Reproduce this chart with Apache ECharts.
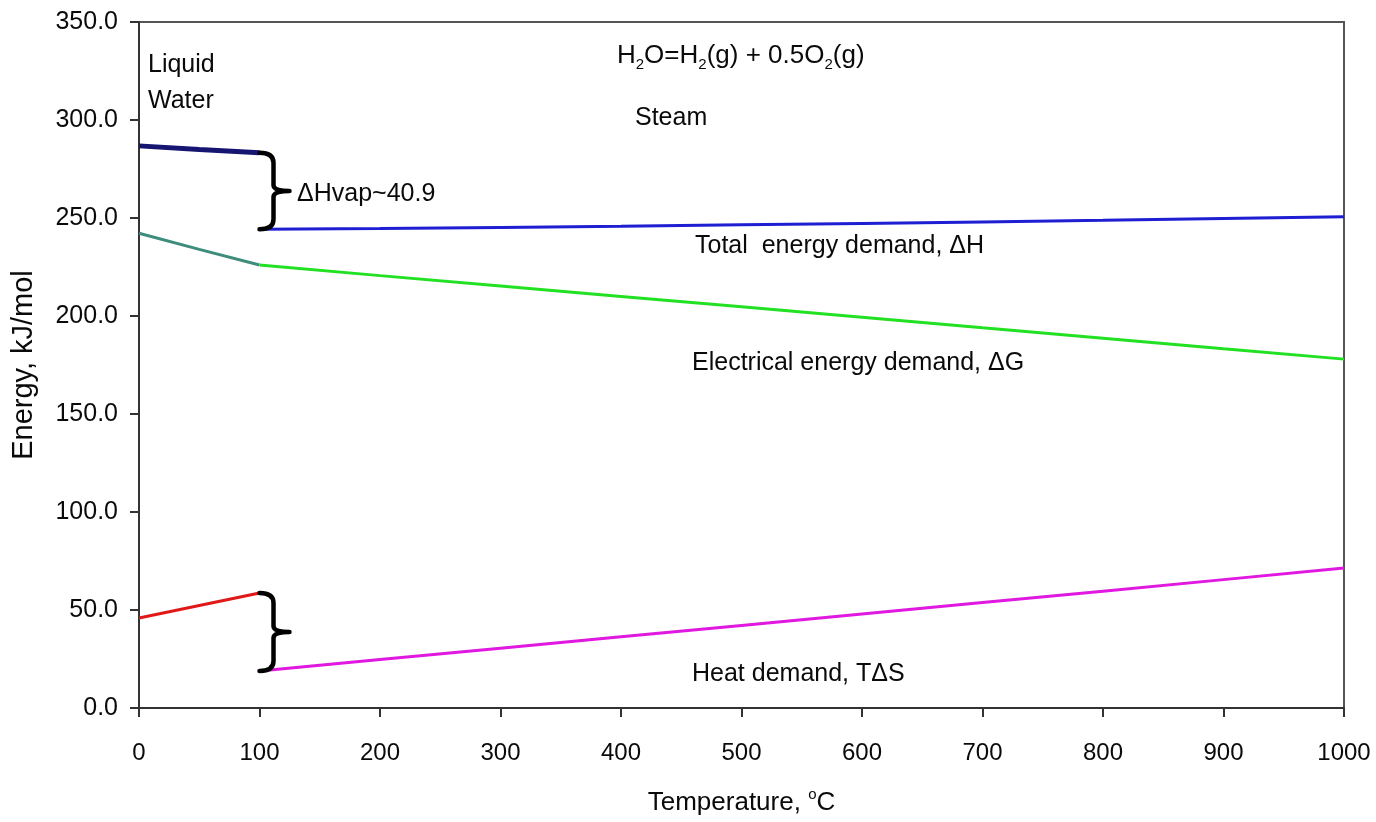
<!DOCTYPE html>
<html>
<head>
<meta charset="utf-8">
<script src="https://cdn.jsdelivr.net/npm/echarts@6/dist/echarts.min.js"></script>
<style>
html,body{margin:0;padding:0;background:#ffffff;}
#chart{width:1376px;height:822px;}
</style>
</head>
<body>
<div id="chart"></div>
<script>
// ---- tick labels ----
const xTickValues = [0, 100, 200, 300, 400, 500, 600, 700, 800, 900, 1000];
const yTickLabels = ['0.0', '50.0', '100.0', '150.0', '200.0', '250.0', '300.0', '350.0'];

// ---- liquid water region (0-100 C) ----
const tempLiquid = [0, 50, 100];
const dHLiquid = [286.8, 285.0, 283.3];
const dGLiquid = [242.2, 234.0, 226.0];
const tdsLiquid = [45.9, 52.3, 58.7];

// ---- steam region (100-1000 C) ----
const tempSteam = [100, 200, 300, 400, 500, 600, 700, 800, 900, 1000];
const dHSteam = [244.3, 244.7, 245.2, 245.8, 246.5, 247.2, 248.0, 248.8, 249.7, 250.6];
const dGSteam = [226.0, 220.6, 215.3, 210.0, 204.7, 199.4, 194.0, 188.7, 183.3, 178.0];
const tdsSteam = [18.9, 24.7, 30.5, 36.3, 42.1, 47.9, 53.8, 59.6, 65.5, 71.4];

// ---- braces: [temperature, upper value, lower value] ----
const braceSpans = [[100, 283.3, 244.3], [100, 58.7, 18.9]];

const FONT = "'Liberation Sans', Arial, Helvetica, sans-serif";
const TXT = '#0a0a0a';

function pairs(xs, ys) { return xs.map((x, i) => [x, ys[i]]); }

function lineSeries(name, xs, ys, color, width) {
  return {
    name: name, type: 'line', data: pairs(xs, ys),
    showSymbol: false, symbol: 'none', smooth: false,
    lineStyle: { color: color, width: width },
    itemStyle: { color: color },
    z: 3, silent: true
  };
}

const chart = echarts.init(document.getElementById('chart'), null, { renderer: 'canvas' });

const option = {
  animation: false,
  backgroundColor: '#ffffff',
  grid: {
    left: 139, right: 32, top: 22, bottom: 114,
    outerBoundsMode: 'none', containLabel: false,
    show: true, borderColor: '#555555', borderWidth: 2, backgroundColor: 'transparent'
  },
  xAxis: {
    type: 'value', min: 0, max: 1000, interval: 100,
    name: 'Temperature, {sup|o}C',
    nameLocation: 'middle', nameGap: 79,
    nameTextStyle: {
      fontFamily: FONT, fontSize: 26, color: TXT, lineHeight: 32,
      rich: { sup: { fontFamily: FONT, fontSize: 15, lineHeight: 15, verticalAlign: 'top', color: TXT } }
    },
    axisLine: { show: true, lineStyle: { color: '#333333', width: 2 } },
    axisTick: { show: true, inside: false, length: 9, lineStyle: { color: '#333333', width: 2 } },
    axisLabel: {
      fontFamily: FONT, fontSize: 24, color: TXT, margin: 33,
      formatter: function (v) { return xTickValues.indexOf(v) >= 0 ? String(v) : ''; }
    },
    splitLine: { show: false }
  },
  yAxis: {
    type: 'value', min: 0, max: 350, interval: 50,
    name: 'Energy, kJ/mol',
    nameLocation: 'middle', nameGap: 101, nameRotate: 90,
    nameTextStyle: { fontFamily: FONT, fontSize: 29, color: TXT },
    axisLine: { show: true, lineStyle: { color: '#333333', width: 2 } },
    axisTick: { show: true, inside: false, length: 9, lineStyle: { color: '#333333', width: 2 } },
    axisLabel: {
      fontFamily: FONT, fontSize: 25, color: TXT, margin: 21,
      formatter: function (v) { return yTickLabels[Math.round(v / 50)]; }
    },
    splitLine: { show: false }
  },
  series: [
    lineSeries('dH liquid', tempLiquid, dHLiquid, '#161672', 5),
    lineSeries('dH steam', tempSteam, dHSteam, '#1e1ed2', 3),
    lineSeries('dG liquid', tempLiquid, dGLiquid, '#3e8c7c', 3),
    lineSeries('dG steam', tempSteam, dGSteam, '#22e022', 3),
    lineSeries('TdS liquid', tempLiquid, tdsLiquid, '#e01818', 3),
    lineSeries('TdS steam', tempSteam, tdsSteam, '#e018e0', 3),
    {
      name: 'braces', type: 'custom', data: braceSpans,
      encode: { x: 0, y: [1, 2] }, z: 4, silent: true, clip: false,
      renderItem: function (params, api) {
        const pt = api.coord([api.value(0), api.value(1)]);
        const pb = api.coord([api.value(0), api.value(2)]);
        const px = pt[0], yt = pt[1], yb = pb[1];
        const vx = px + 14, tipx = px + 30, ym = (yt + yb) / 2, r = 10;
        const d = 'M' + px + ' ' + yt +
          ' Q' + vx + ' ' + yt + ' ' + vx + ' ' + (yt + r) +
          ' L' + vx + ' ' + (ym - 6) +
          ' Q' + vx + ' ' + ym + ' ' + tipx + ' ' + ym +
          ' M' + tipx + ' ' + ym +
          ' Q' + vx + ' ' + ym + ' ' + vx + ' ' + (ym + 6) +
          ' L' + vx + ' ' + (yb - r) +
          ' Q' + vx + ' ' + yb + ' ' + px + ' ' + yb;
        return {
          type: 'path',
          shape: { pathData: d },
          style: { stroke: '#000000', lineWidth: 4.5, fill: 'none', lineJoin: 'round', lineCap: 'round' }
        };
      }
    }
  ],
  graphic: [
    { type: 'text', x: 148, y: 65, silent: true,
      style: { text: 'Liquid', font: '25px ' + FONT, fill: TXT, verticalAlign: 'middle' } },
    { type: 'text', x: 148, y: 101, silent: true,
      style: { text: 'Water', font: '25px ' + FONT, fill: TXT, verticalAlign: 'middle' } },
    { type: 'text', x: 617, y: 56, silent: true,
      style: {
        text: '{n|H}{s|2}{n|O=H}{s|2}{n|(g) + 0.5O}{s|2}{n|(g)}',
        verticalAlign: 'middle',
        rich: {
          n: { fontFamily: FONT, fontSize: 26, lineHeight: 32, fill: TXT, color: TXT },
          s: { fontFamily: FONT, fontSize: 15, lineHeight: 14, verticalAlign: 'bottom', fill: TXT, color: TXT }
        }
      } },
    { type: 'text', x: 635, y: 118, silent: true,
      style: { text: 'Steam', font: '25px ' + FONT, fill: TXT, verticalAlign: 'middle' } },
    { type: 'text', x: 297, y: 194, silent: true,
      style: { text: '\u0394Hvap~40.9', font: '25px ' + FONT, fill: TXT, verticalAlign: 'middle' } },
    { type: 'text', x: 695, y: 246, silent: true,
      style: { text: 'Total  energy demand, \u0394H', font: '25px ' + FONT, fill: TXT, verticalAlign: 'middle' } },
    { type: 'text', x: 692, y: 363, silent: true,
      style: { text: 'Electrical energy demand, \u0394G', font: '25px ' + FONT, fill: TXT, verticalAlign: 'middle' } },
    { type: 'text', x: 692, y: 674, silent: true,
      style: { text: 'Heat demand, T\u0394S', font: '25px ' + FONT, fill: TXT, verticalAlign: 'middle' } }
  ]
};

chart.setOption(option);
</script>
</body>
</html>
